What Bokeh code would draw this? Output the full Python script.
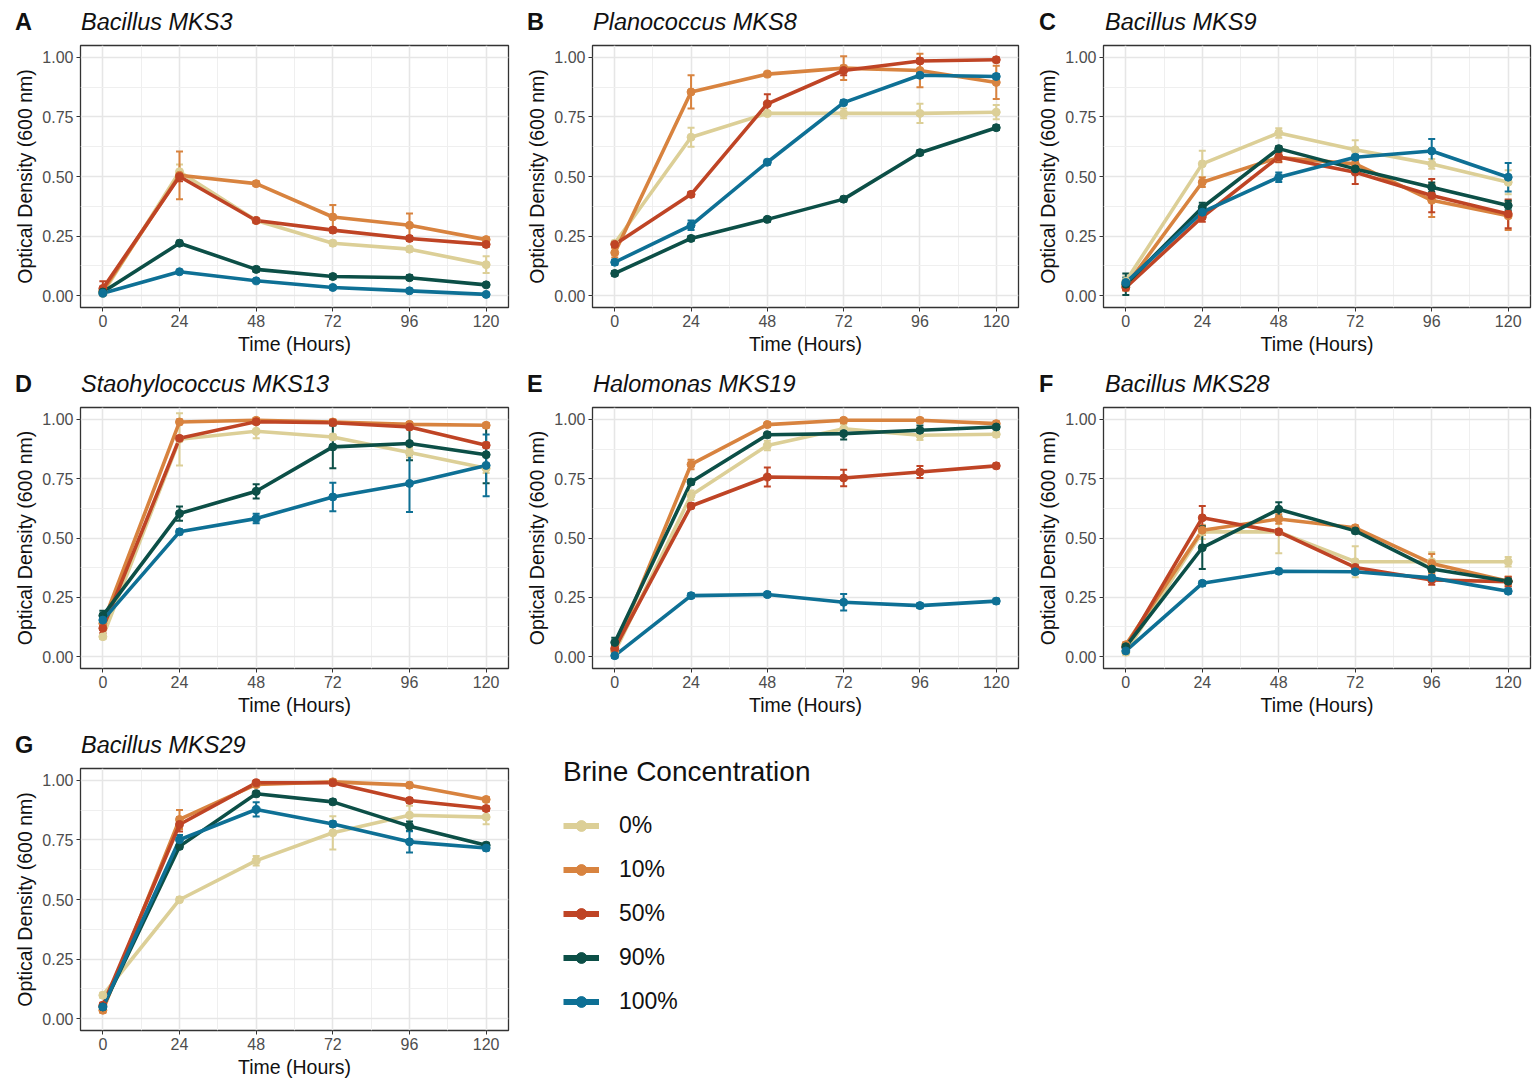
from bokeh.plotting import figure
from bokeh.models import (FixedTicker, Range1d, Legend, LegendItem, Whisker, Div,
                          ColumnDataSource, TeeHead, NumeralTickFormatter)
from bokeh.layouts import column, row
from bokeh.embed import file_html
from bokeh.resources import INLINE

hours = [0, 24, 48, 72, 96, 120]
concentrations = ["0%", "10%", "50%", "90%", "100%"]
colors = ["#DCCF97", "#D8833F", "#BF4425", "#0C4F47", "#0E7095"]

letters = ["A", "B", "C", "D", "E", "F", "G"]
species = ["Bacillus MKS3", "Planococcus MKS8", "Bacillus MKS9", "Staohylococcus MKS13",
           "Halomonas MKS19", "Bacillus MKS28", "Bacillus MKS29"]

# mean optical density, one row per brine concentration (0, 10, 50, 90, 100 %)
A_mean = [[0.01, 0.52, 0.315, 0.22, 0.195, 0.13],
          [0.02, 0.505, 0.47, 0.33, 0.295, 0.235],
          [0.03, 0.50, 0.315, 0.275, 0.24, 0.215],
          [0.015, 0.22, 0.11, 0.08, 0.075, 0.045],
          [0.01, 0.10, 0.062, 0.034, 0.02, 0.005]]
A_err = [[0.0, 0.03, 0.01, 0.01, 0.01, 0.035],
         [0.0, 0.10, 0.01, 0.05, 0.05, 0.01],
         [0.03, 0.02, 0.01, 0.01, 0.01, 0.01],
         [0.005, 0.01, 0.01, 0.01, 0.01, 0.005],
         [0.005, 0.005, 0.005, 0.005, 0.005, 0.005]]

B_mean = [[0.22, 0.665, 0.765, 0.765, 0.765, 0.77],
          [0.18, 0.855, 0.93, 0.955, 0.945, 0.895],
          [0.215, 0.425, 0.805, 0.945, 0.985, 0.99],
          [0.093, 0.24, 0.32, 0.405, 0.60, 0.705],
          [0.14, 0.295, 0.56, 0.81, 0.925, 0.92]]
B_err = [[0.01, 0.04, 0.01, 0.02, 0.04, 0.03],
         [0.02, 0.07, 0.01, 0.05, 0.07, 0.07],
         [0.01, 0.01, 0.04, 0.02, 0.01, 0.01],
         [0.01, 0.01, 0.01, 0.01, 0.01, 0.01],
         [0.01, 0.02, 0.01, 0.01, 0.01, 0.01]]

C_mean = [[0.06, 0.553, 0.683, 0.612, 0.553, 0.476],
          [0.04, 0.476, 0.58, 0.553, 0.40, 0.335],
          [0.034, 0.33, 0.582, 0.518, 0.42, 0.343],
          [0.048, 0.37, 0.617, 0.532, 0.455, 0.378],
          [0.055, 0.35, 0.497, 0.581, 0.607, 0.497]]
C_err = [[0.02, 0.055, 0.02, 0.04, 0.02, 0.05],
         [0.02, 0.02, 0.02, 0.02, 0.07, 0.06],
         [0.01, 0.02, 0.02, 0.05, 0.07, 0.06],
         [0.045, 0.02, 0.01, 0.01, 0.02, 0.02],
         [0.02, 0.01, 0.02, 0.01, 0.05, 0.06]]

D_mean = [[0.084, 0.916, 0.95, 0.926, 0.86, 0.794],
          [0.14, 0.989, 0.996, 0.989, 0.979, 0.975],
          [0.12, 0.92, 0.99, 0.986, 0.968, 0.891],
          [0.173, 0.603, 0.697, 0.884, 0.898, 0.851],
          [0.154, 0.526, 0.582, 0.673, 0.73, 0.806]]
D_err = [[0.01, 0.11, 0.03, 0.01, 0.02, 0.02],
         [0.01, 0.01, 0.01, 0.01, 0.01, 0.01],
         [0.02, 0.01, 0.01, 0.01, 0.01, 0.01],
         [0.02, 0.03, 0.03, 0.09, 0.07, 0.12],
         [0.02, 0.01, 0.02, 0.06, 0.12, 0.13]]

E_mean = [[0.02, 0.68, 0.89, 0.96, 0.933, 0.937],
          [0.028, 0.81, 0.978, 0.996, 0.996, 0.982],
          [0.035, 0.635, 0.757, 0.753, 0.778, 0.804],
          [0.06, 0.736, 0.935, 0.94, 0.954, 0.968],
          [0.004, 0.257, 0.262, 0.229, 0.215, 0.234]]
E_err = [[0.01, 0.02, 0.02, 0.02, 0.02, 0.01],
         [0.01, 0.02, 0.01, 0.01, 0.01, 0.01],
         [0.01, 0.01, 0.04, 0.035, 0.025, 0.01],
         [0.02, 0.01, 0.01, 0.025, 0.02, 0.01],
         [0.01, 0.01, 0.01, 0.035, 0.01, 0.01]]

F_mean = [[0.018, 0.526, 0.526, 0.40, 0.40, 0.40],
          [0.05, 0.533, 0.58, 0.543, 0.393, 0.318],
          [0.038, 0.585, 0.526, 0.376, 0.323, 0.316],
          [0.042, 0.459, 0.621, 0.53, 0.369, 0.318],
          [0.024, 0.309, 0.36, 0.358, 0.332, 0.276]]
F_err = [[0.01, 0.03, 0.09, 0.065, 0.04, 0.02],
         [0.01, 0.02, 0.02, 0.01, 0.04, 0.02],
         [0.01, 0.05, 0.01, 0.01, 0.02, 0.02],
         [0.01, 0.09, 0.03, 0.01, 0.01, 0.01],
         [0.01, 0.01, 0.01, 0.01, 0.01, 0.01]]

G_mean = [[0.098, 0.499, 0.663, 0.78, 0.854, 0.846],
          [0.035, 0.836, 0.983, 0.994, 0.98, 0.92],
          [0.056, 0.815, 0.99, 0.99, 0.916, 0.882],
          [0.049, 0.723, 0.944, 0.91, 0.808, 0.728],
          [0.049, 0.751, 0.878, 0.817, 0.742, 0.716]]
G_err = [[0.01, 0.01, 0.02, 0.07, 0.04, 0.03],
         [0.01, 0.04, 0.01, 0.01, 0.01, 0.01],
         [0.01, 0.03, 0.01, 0.01, 0.01, 0.01],
         [0.01, 0.01, 0.01, 0.01, 0.02, 0.01],
         [0.01, 0.02, 0.03, 0.01, 0.045, 0.01]]

x_ticks = [0, 24, 48, 72, 96, 120]
x_minor = [12, 36, 60, 84, 108]
y_ticks = [0.0, 0.25, 0.5, 0.75, 1.0]
y_minor = [0.125, 0.375, 0.625, 0.875]

FONT = "Liberation Sans"
X0, X1 = -7, 127
Y0, Y1 = -0.05, 1.05
TITLE_H = 38
# column geometry: (cell width, left border, frame width)
COLS = [(512, 80, 428), (512, 80, 426), (510, 79, 427)]
# row geometry: (frame height, bottom border)
ROWS = [(262, 55), (261, 55), (262, 51)]
TOP = 7


def title_div(letter, name, width):
    html = ('<div style="position:relative;width:%dpx;height:%dpx;'
            'font-family:\'Liberation Sans\',Arial,sans-serif;font-size:23.5px;color:#111111;">'
            '<span style="position:absolute;left:15px;top:6px;font-weight:bold;">%s</span>'
            '<span style="position:absolute;left:81px;top:6px;font-style:italic;">%s</span></div>'
            % (width, TITLE_H, letter, name))
    return Div(text=html, width=width, height=TITLE_H, margin=0)


def make_panel(letter, name, means, errs, r, c):
    cw, left, fw = COLS[c]
    fh, bottom = ROWS[r]
    p = figure(width=cw, height=TOP + fh + bottom, x_range=Range1d(X0, X1),
               y_range=Range1d(Y0, Y1), title=None,
               output_backend="svg", toolbar_location=None,
               min_border_left=left, min_border_right=cw - left - fw,
               min_border_top=TOP, min_border_bottom=bottom)
    p.xaxis.ticker = FixedTicker(ticks=x_ticks, minor_ticks=x_minor)
    p.yaxis.ticker = FixedTicker(ticks=y_ticks, minor_ticks=y_minor)
    p.yaxis.formatter = NumeralTickFormatter(format="0.00")
    p.xaxis.axis_label = "Time (Hours)"
    p.yaxis.axis_label = "Optical Density (600 nm)"
    for ax in p.axis:
        ax.axis_line_color = None
        ax.minor_tick_line_color = None
        ax.major_tick_in = 0
        ax.major_tick_out = 4
        ax.major_tick_line_color = "#333333"
        ax.major_label_text_font = FONT
        ax.major_label_text_font_size = "16px"
        ax.major_label_text_color = "#4D4D4D"
        ax.major_label_standoff = 3
        ax.axis_label_text_font = FONT
        ax.axis_label_text_font_size = "19.5px"
        ax.axis_label_text_font_style = "normal"
        ax.axis_label_text_color = "#111111"
        ax.axis_label_standoff = 3
    for g in p.grid:
        g.grid_line_color = "#E6E6E6"
        g.grid_line_width = 1.6
        g.minor_grid_line_color = "#EFEFEF"
        g.minor_grid_line_width = 1.0
    p.outline_line_color = "#333333"
    p.outline_line_width = 1.3
    p.background_fill_color = "white"

    for i in range(len(concentrations)):
        p.line(hours, means[i], line_color=colors[i], line_width=3.6)
    for i in range(len(concentrations)):
        p.scatter(hours, means[i], size=8, color=colors[i])
    for i in range(len(concentrations)):
        xs = [h for h, e in zip(hours, errs[i]) if e > 0]
        up = [m + e for m, e in zip(means[i], errs[i]) if e > 0]
        lo = [m - e for m, e in zip(means[i], errs[i]) if e > 0]
        src = ColumnDataSource(dict(x=xs, upper=up, lower=lo))
        w = Whisker(source=src, base="x", upper="upper", lower="lower",
                    line_color=colors[i], line_width=2,
                    upper_head=TeeHead(size=7, line_color=colors[i], line_width=2),
                    lower_head=TeeHead(size=7, line_color=colors[i], line_width=2))
        p.add_layout(w)
    return column(title_div(letter, name, cw), p)


means_all = [A_mean, B_mean, C_mean, D_mean, E_mean, F_mean, G_mean]
errs_all = [A_err, B_err, C_err, D_err, E_err, F_err, G_err]
cells = [make_panel(letters[k], species[k], means_all[k], errs_all[k], k // 3, k % 3)
         for k in range(7)]

# legend cell (its renderers hold panel G's data but lie outside the visible range)
lg_h = TITLE_H + TOP + ROWS[2][0] + ROWS[2][1]
lg = figure(width=COLS[1][0], height=lg_h, x_range=Range1d(1000, 1001), y_range=Range1d(0, 1),
            title=None, output_backend="svg", toolbar_location=None,
            min_border_left=51, min_border_top=33, min_border_right=0, min_border_bottom=0,
            x_axis_location=None, y_axis_location=None)
lg.grid.visible = False
lg.outline_line_color = None
items = []
for i, c in enumerate(concentrations):
    lr = lg.line(hours, G_mean[i], line_color=colors[i], line_width=6)
    sr = lg.scatter(hours, G_mean[i], size=11, color=colors[i])
    items.append(LegendItem(label=c, renderers=[lr, sr]))
legend = Legend(items=items, location="top_left", title="Brine Concentration",
                border_line_color=None, background_fill_alpha=0, padding=0, margin=0,
                spacing=17, label_standoff=20, glyph_width=36, glyph_height=27,
                label_height=27, title_standoff=24,
                title_text_font=FONT, title_text_font_size="28px",
                title_text_font_style="normal", title_text_color="#111111",
                label_text_font=FONT, label_text_font_size="23px", label_text_color="#111111")
lg.add_layout(legend)

layout = column(row(cells[0], cells[1], cells[2]),
                row(cells[3], cells[4], cells[5]),
                row(cells[6], lg))

open("out.html", "w").write(file_html(layout, INLINE))
